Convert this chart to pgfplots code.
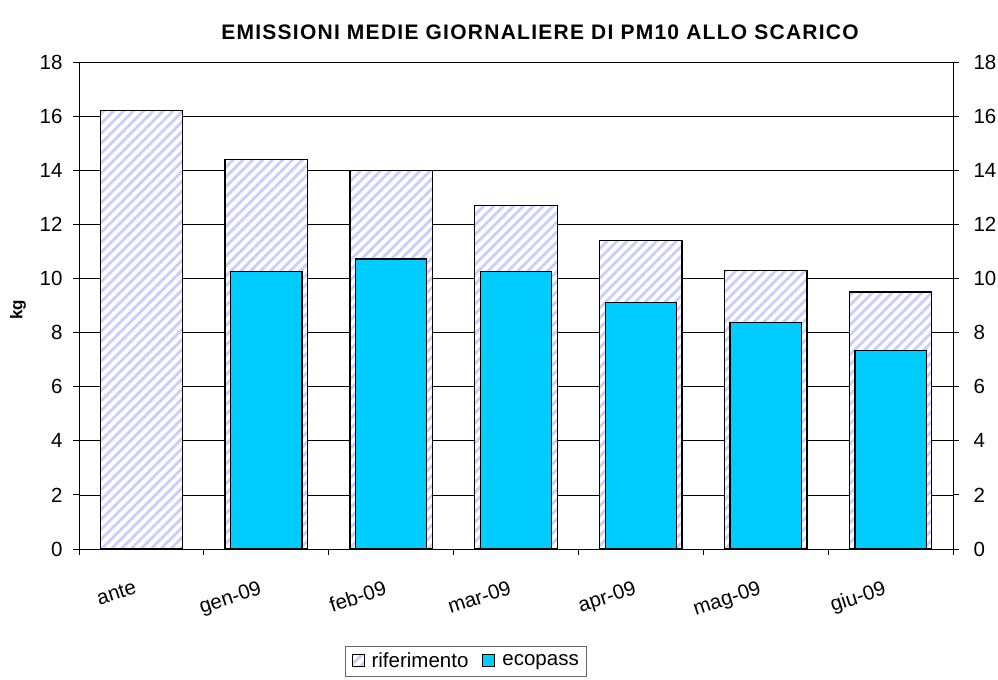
\documentclass[border=0pt]{standalone}
\usepackage{fontspec}
\setmainfont{Liberation Sans}
\usepackage{pgfplots}
\pgfplotsset{compat=1.18}
\usetikzlibrary{patterns.meta}
\definecolor{hatch}{RGB}{204,204,255}
\definecolor{eco}{RGB}{0,204,255}
\newcommand{\fs}{\fontsize{20.5bp}{24bp}\selectfont}
\begin{document}
\begin{tikzpicture}[x=1bp,y=1bp]
\useasboundingbox (0,0) rectangle (998,680);
\pgfplotsset{
  common/.style={
    at={(79bp,131bp)}, anchor=south west, scale only axis,
    width=874bp, height=487bp,
    xmin=-0.5, xmax=6.5, ymin=0, ymax=18, ytick={0,2,...,18},
    tick align=outside, major tick length=6bp, minor tick length=6bp,
    tick style={black, line width=0.8bp},
    tick label style={font=\fs},
    /pgf/number format/assume math mode=true,
  }
}
\begin{axis}[common,
  axis line style={black, line width=0.8bp},
  ytick pos=left,
  yticklabel style={xshift=-7bp},
  ymajorgrids, grid style={black, line width=0.7bp},
  xtick={0,1,2,3,4,5,6},
  xticklabels={ante,gen-09,feb-09,mar-09,apr-09,mag-09,giu-09},
  major x tick style={draw=none},
  minor xtick={-0.5,0.5,...,6.5},
  xtick pos=bottom,
  xticklabel style={rotate=18, anchor=north east, font=\fs, yshift=-18bp, xshift=-12bp},
  legend style={at={(0.443,-0.230)}, anchor=center, draw=black!60, line width=0.6bp,
    font=\fs, inner xsep=6bp, inner ysep=5bp, column sep=5bp,
    /tikz/column 2/.style={column sep=12bp}},
  legend columns=2,
  legend image code/.code={\draw[#1, line width=1bp] (0bp,-5bp) rectangle (12bp,7bp);},
]
\addplot[ybar, bar width=0.66, bar shift=0pt, draw=black, line width=1.3bp, fill=white,
  postaction={pattern={Lines[angle=45,distance=7bp,line width=2.8bp]}, pattern color=hatch}]
  coordinates {(0,16.2) (1,14.4) (2,14.0) (3,12.7) (4,11.4) (5,10.3) (6,9.5)};
\addlegendentry{riferimento}
\addplot[ybar, bar width=0.57, bar shift=0pt, draw=black, line width=1.3bp, fill=eco]
  coordinates {(1,10.25) (2,10.72) (3,10.25) (4,9.1) (5,8.37) (6,7.33)};
\addlegendentry{ecopass}
\end{axis}
\begin{axis}[common,
  axis x line=none, axis y line*=right,
  axis line style={black, line width=0.8bp},
  yticklabel pos=right,
  yticklabel style={xshift=11bp},
]
\end{axis}
\node[font=\fontsize{21bp}{24bp}\selectfont\bfseries\addfontfeature{LetterSpace=6}] at (540,648) {EMISSIONI MEDIE GIORNALIERE DI PM10 ALLO SCARICO};
\node[font=\fontsize{17bp}{20bp}\selectfont\bfseries, rotate=90] at (18,370) {kg};
\end{tikzpicture}
\end{document}
